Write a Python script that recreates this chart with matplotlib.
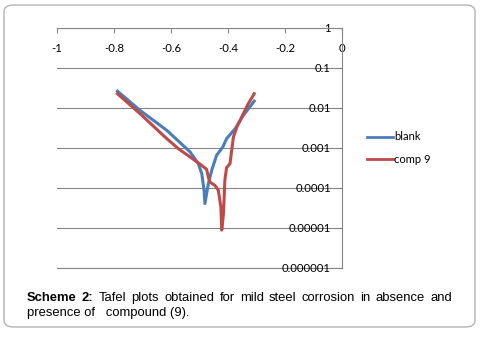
import matplotlib.pyplot as plt
from matplotlib.patches import FancyBboxPatch

# Tafel data: potential (V) vs current density
e_blank = [-0.788, -0.709, -0.615, -0.533, -0.504, -0.492, -0.484, -0.481,
           -0.469, -0.457, -0.440, -0.418, -0.405, -0.375, -0.346, -0.308]
i_blank = [0.0263, 0.0087, 0.00275, 0.00079, 0.0004, 0.000224, 8.7e-5, 4.0e-5,
           1.26e-4, 2.75e-4, 6.5e-4, 1.05e-3, 1.7e-3, 3.0e-3, 6.5e-3, 0.0148]

e_comp = [-0.788, -0.709, -0.615, -0.574, -0.533, -0.498, -0.475, -0.469,
          -0.463, -0.446, -0.434, -0.425, -0.422, -0.416, -0.411, -0.405,
          -0.393, -0.387, -0.381, -0.369, -0.346, -0.329, -0.308]
i_comp = [0.0226, 0.0072, 0.0017, 0.00095, 0.00059, 0.00039, 0.00029, 0.000186,
          0.000138, 0.000115, 8.7e-5, 3.3e-5, 8.7e-6, 2.2e-5, 1.55e-4, 3.2e-4,
          4.0e-4, 8.7e-4, 1.86e-3, 3.3e-3, 7.2e-3, 0.0127, 0.0226]

x_ticks = [-1, -0.8, -0.6, -0.4, -0.2, 0]
x_labels = ['-1', '-0.8', '-0.6', '-0.4', '-0.2', '0']
y_ticks = [1, 0.1, 0.01, 0.001, 0.0001, 0.00001, 0.000001]
y_labels = ['1', '0.1', '0.01', '0.001', '0.0001', '0.00001', '0.000001']

W, H = 480, 337
fig = plt.figure(figsize=(W / 100, H / 100), dpi=100)

# rounded frame around the whole figure
frame = FancyBboxPatch((4 / W, 1 - 327 / H), 471 / W, 322 / H,
                       boxstyle="round,pad=0,rounding_size=0.02",
                       transform=fig.transFigure, fc='none', ec='#b4b4b4',
                       lw=1.0, zorder=-1)
fig.patches.append(frame)

ax = fig.add_axes([57 / W, 1 - 268 / H, 285 / W, 240 / H])
ax.set_facecolor('none')
grey = '#868686'

ax.plot(e_blank, i_blank, color='#4a7ebb', lw=2.2, label='blank')
ax.plot(e_comp, i_comp, color='#be4b48', lw=2.2, label='comp 9')

ax.set_yscale('log')
ax.set_xlim(-1, 0)
ax.set_ylim(0.98e-6, 1)

ax.set_xticks(x_ticks)
ax.set_xticklabels(x_labels)
ax.set_yticks(y_ticks)
ax.set_yticklabels(y_labels)
ax.minorticks_off()

for s in ['left', 'bottom']:
    ax.spines[s].set_visible(False)
for s in ['top', 'right']:
    ax.spines[s].set_color(grey)
    ax.spines[s].set_linewidth(0.8)

ax.grid(axis='y', color=grey, lw=0.8)
ax.axhline(y_ticks[-1], color=grey, lw=0.8, clip_on=False, zorder=0.5)
ax.set_axisbelow(True)

lbl_font = dict(family='Lato', size=8)
ax.tick_params(axis='x', top=True, bottom=False, labeltop=True, labelbottom=False,
               direction='in', length=3.6, width=0.8, color=grey, pad=-11)
ax.tick_params(axis='y', right=True, left=False, labelright=True, labelleft=False,
               direction='in', length=3, width=0.8, color=grey, pad=-8)
for t in ax.get_xticklabels():
    t.set_va('top')
    t.set_fontfamily('Lato')
    t.set_fontsize(8.2)
for t in ax.get_yticklabels():
    t.set_ha('right')
    t.set_fontfamily('Lato')
    t.set_fontsize(8.2)

ax.legend(loc='center left', bbox_to_anchor=(363 / W, 1 - 148 / H),
          bbox_transform=fig.transFigure, frameon=False, handlelength=2.3,
          handletextpad=0.1, labelspacing=1.0, prop=lbl_font, borderaxespad=0)
for ln in ax.get_legend().get_lines():
    ln.set_linewidth(2.0)

# caption, first line justified between x=27 and x=452 px
cap_font = dict(family='Liberation Sans', size=9.4, va='baseline')
cap_y1 = 1 - 301 / H
cap_y2 = 1 - 316 / H
fig.canvas.draw()
r = fig.canvas.get_renderer()
words = ['Scheme', '2:', 'Tafel', 'plots', 'obtained', 'for', 'mild', 'steel',
         'corrosion', 'in', 'absence', 'and']
arts = []
for k, w in enumerate(words):
    arts.append(fig.text(0, cap_y1, w, weight='bold' if k < 2 else 'normal', **cap_font))
widths = [a.get_window_extent(r).width for a in arts]
gap = (452 - 27 - sum(widths)) / (len(words) - 1)
x = 27.0
for a, wd in zip(arts, widths):
    a.set_x(x / W)
    x += wd + gap
fig.text(27 / W, cap_y2, 'presence of   compound (9).', **cap_font)

fig.savefig('out.png', dpi=100)
